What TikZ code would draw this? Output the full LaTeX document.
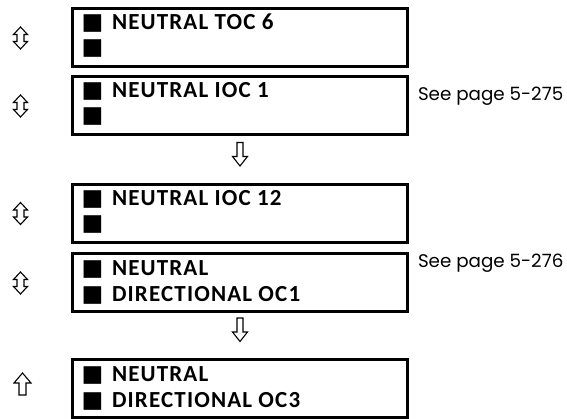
\documentclass[tikz,border=0pt]{standalone}
\usepackage{fontspec}
\setmainfont{Carlito}
\newfontfamily\symfont{DejaVu Sans}
\newfontfamily\seefont{Poppins}
\newfontfamily\boxfont[LetterSpace=5]{Carlito}
\usetikzlibrary{calc}
\newcommand\sqm{\makebox[29pt][l]{\hspace{-1.5pt}\symfont\fontsize{23}{23}\selectfont ■}}
\tikzset{
  box/.style={draw, line width=3pt, rectangle, minimum width=335pt, minimum height=58pt, outer sep=0pt, inner sep=0pt},
  lbl/.style={font=\boxfont\fontsize{23}{25}\bfseries\selectfont, anchor=base west, inner sep=0pt, outer sep=0pt},
  see/.style={font=\seefont\fontsize{18.3}{20}\selectfont, anchor=base west, inner sep=0pt, outer sep=0pt},
  sym/.style={draw, line width=1.1pt, fill=white, line join=miter},
  udarrow/.pic={\path[sym] (0,-11) -- (7,-3.5) -- (3.5,-3.5) -- (3.5,3.5) -- (7,3.5) -- (0,11) -- (-7,3.5) -- (-3.5,3.5) -- (-3.5,-3.5) -- (-7,-3.5) -- cycle;},
  dnarrow/.pic={\path[sym] (-3,-12) -- (3,-12) -- (3,2) -- (7.5,2) -- (0,11.5) -- (-7.5,2) -- (-3,2) -- cycle;},
  uparrow/.pic={\path[sym] (-3.5,11) -- (3.5,11) -- (3.5,-1) -- (8.5,-1) -- (0,-11) -- (-8.5,-1) -- (-3.5,-1) -- cycle;}
}
\begin{document}
\begin{tikzpicture}[x=1pt,y=-1pt]
\useasboundingbox (0,0) rectangle (567,419);
% boxes
\node[box] (b1) at (239.5,37.5) {};
\node[box] (b2) at (239.5,105.5) {};
\node[box] (b3) at (239.5,213.5) {};
\node[box] (b4) at (239.5,282.5) {};
\node[box] (b5) at (239.5,388.5) {};
% texts
\node[lbl] (t1a) at ($(b1.north west)+(11,21.5)$) {\sqm NEUTRAL TOC 6};
\node[lbl] (t1b) at ($(b1.north west)+(11,46)$) {\sqm};
\node[lbl] (t2a) at ($(b2.north west)+(11,21.5)$) {\sqm NEUTRAL IOC 1};
\node[lbl] (t2b) at ($(b2.north west)+(11,46)$) {\sqm};
\node[lbl] (t3a) at ($(b3.north west)+(11,21.5)$) {\sqm NEUTRAL IOC 12};
\node[lbl] (t3b) at ($(b3.north west)+(11,46)$) {\sqm};
\node[lbl] (t4a) at ($(b4.north west)+(11,22)$) {\sqm NEUTRAL};
\node[lbl] (t4b) at ($(b4.north west)+(11,48)$) {\sqm DIRECTIONAL OC1};
\node[lbl] (t5a) at ($(b5.north west)+(11,22)$) {\sqm NEUTRAL};
\node[lbl] (t5b) at ($(b5.north west)+(11,48)$) {\sqm DIRECTIONAL OC3};
% side notes
\node[see] (s1) at (418,101) {See page 5-275};
\node[see] (s2) at (418,268) {See page 5-276};
% navigation arrows
\pic (a1) at (20.5,38) {udarrow};
\pic (a2) at (20.5,106) {udarrow};
\pic (a3) at (20.5,213.5) {udarrow};
\pic (a4) at (20.5,283) {udarrow};
\pic (a5) at (22.5,384) {uparrow};
\pic (d1) at (240,154.5) {dnarrow};
\pic (d2) at (240,330) {dnarrow};
\end{tikzpicture}
\end{document}
